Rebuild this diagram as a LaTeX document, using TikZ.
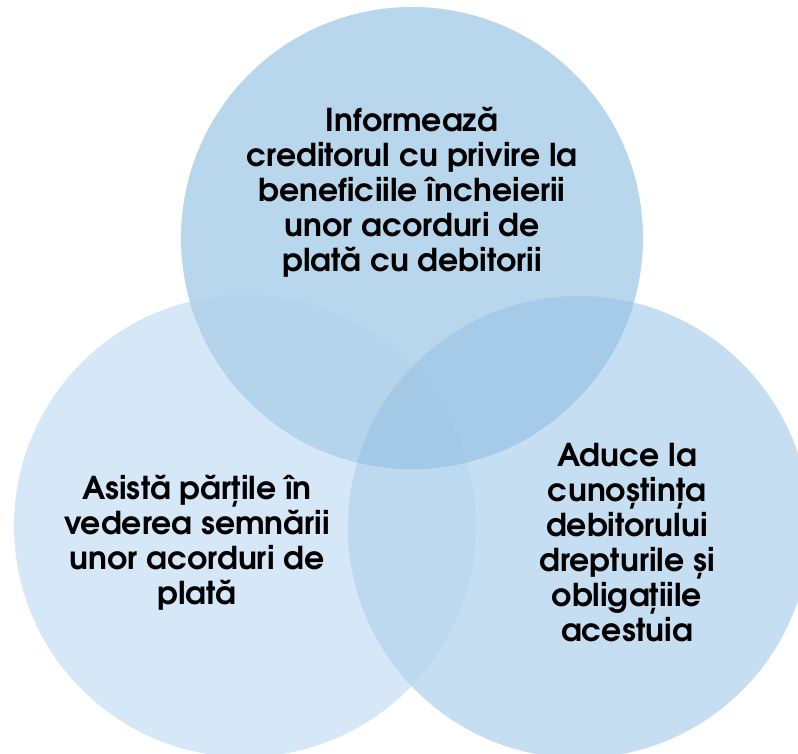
\documentclass[tikz,border=0pt]{standalone}
\usepackage{fontspec}
\setmainfont{texgyreadventor}[Extension=.otf, UprightFont=*-regular, BoldFont=*-bold]
\definecolor{cL}{HTML}{D6E7F7}
\definecolor{cT}{HTML}{B8D6EC}
\definecolor{cR}{HTML}{C6DEF2}
\definecolor{cTL}{HTML}{B4D4EC}
\definecolor{cLR}{HTML}{BDD9F0}
\definecolor{cTR}{HTML}{A5CBE8}
\definecolor{cTLR}{HTML}{A3C9E7}
\tikzset{
  lbl/.style={align=center, font=\bfseries\fontsize{31.5}{35}\selectfont, text=black, inner sep=0pt}
}
\begin{document}
\begin{tikzpicture}[x=1pt,y=-1pt]
\useasboundingbox (0,0) rectangle (798,753);
\clip (0,0) rectangle (798,753);
\coordinate (T) at (412,238);
\coordinate (L) at (245,526);
\coordinate (R) at (579,527);
\def\rad{231pt}
\fill[cL] (L) circle[radius=\rad];
\fill[cR] (R) circle[radius=\rad];
\fill[cT] (T) circle[radius=\rad];
\begin{scope}
  \clip (L) circle[radius=\rad];
  \fill[cLR] (R) circle[radius=\rad];
  \fill[cTL] (T) circle[radius=\rad];
\end{scope}
\begin{scope}
  \clip (T) circle[radius=\rad];
  \fill[cTR] (R) circle[radius=\rad];
\end{scope}
\begin{scope}
  \clip (T) circle[radius=\rad];
  \clip (L) circle[radius=\rad];
  \fill[cTLR] (R) circle[radius=\rad];
\end{scope}
\node[lbl] (tt) at (412,192) {Informează\\creditorul cu privire la\\beneficiile încheierii\\unor acorduri de\\plată cu debitorii};
\node[lbl] (lt) at (197,543) {Asistă părțile în\\vederea semnării\\unor acorduri de\\plată};
\node[lbl] (rt) at (627,543) {Aduce la\\cunoștința\\debitorului\\drepturile și\\obligațiile\\acestuia};
\end{tikzpicture}
\end{document}
